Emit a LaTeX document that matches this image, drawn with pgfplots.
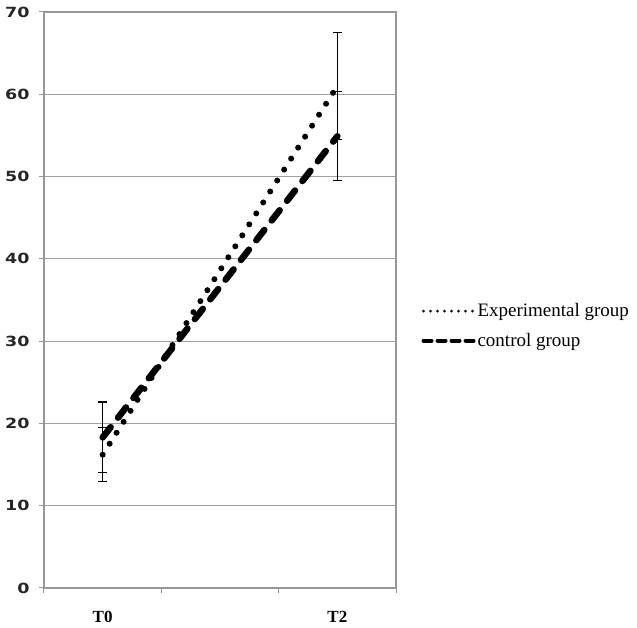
\documentclass[border=0pt]{standalone}
\usepackage{pgfplots}
\pgfplotsset{compat=1.18}
\usepackage{fontspec}
\setmainfont{Liberation Serif}
\newfontfamily\tickfont[FakeStretch=1.25]{DejaVu Sans}
\definecolor{gridgray}{RGB}{160,160,160}
\definecolor{axgray}{RGB}{150,150,150}
\begin{document}
\begin{tikzpicture}
\begin{axis}[
  name=ax,
  scale only axis,
  width=352pt, height=576pt,
  xmin=-0.5, xmax=2.5,
  ymin=0, ymax=70,
  ytick={0,10,...,70},
  xtick={-0.5,0.5,1.5,2.5},
  xticklabels={},
  xtick pos=bottom, ytick pos=left,
  extra x ticks={0,2},
  extra x tick labels={T0,T2},
  extra x tick style={major tick length=0pt, grid=none, xticklabel style={font=\bfseries\fontsize{17}{19}\selectfont, yshift=-20pt}},
  tick align=outside,
  major tick length=5pt,
  tick style={axgray, line width=1pt},
  axis line style={axgray, line width=1.3pt},
  ymajorgrids,
  grid style={gridgray, line width=0.9pt},
  yticklabel style={font=\tickfont\bfseries\fontsize{14}{16}\selectfont, text=black!85, xshift=-6pt},
  /pgf/number format/assume math mode=true,
  legend style={at={(1.072,0.455)}, anchor=west, draw=none, fill=none,
    font=\fontsize{19}{21}\selectfont, row sep=11pt, inner sep=0pt},
  legend cell align=left,
  legend image code/.code={\draw[#1] (0pt,0pt) -- (50pt,0pt);},
]
\addplot[black, line width=6pt, dash pattern=on 0pt off 13pt, line cap=round,
  legend image post style={line width=3pt, dash pattern=on 0pt off 7pt},
  error bars/.cd, y dir=both, y explicit,
  error bar style={solid, line width=1.1pt, black, line cap=butt},
  error mark options={rotate=90, mark size=4.5pt, solid, line width=1.1pt, black}]
  coordinates {(0,16.2) +- (0,3.3) (2,61.0) +- (0,6.5)};
\addlegendentry{Experimental group}
\addplot[black, line width=6.5pt, dash pattern=on 13pt off 12pt, line cap=round,
  legend image post style={line width=4pt, dash pattern=on 8pt off 6pt},
  error bars/.cd, y dir=both, y explicit,
  error bar style={solid, line width=1.1pt, black, line cap=butt},
  error mark options={rotate=90, mark size=4.5pt, solid, line width=1.1pt, black}]
  coordinates {(0,18.3) +- (0,4.3) (2,54.9) +- (0,5.4)};
\addlegendentry{control group}
\end{axis}
\pgfresetboundingbox
\path[use as bounding box] ([xshift=-44pt,yshift=-40pt]ax.south west) rectangle ++(637pt,628pt);
\end{tikzpicture}
\end{document}
